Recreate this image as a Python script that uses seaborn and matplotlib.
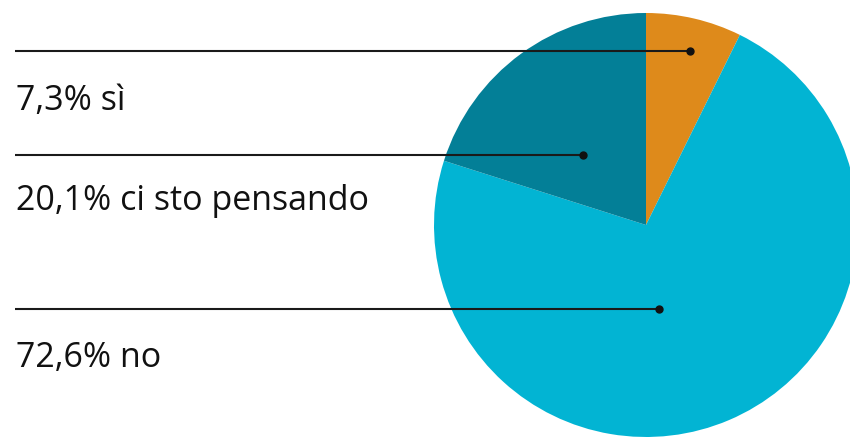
import matplotlib
matplotlib.use("Agg")
import matplotlib.pyplot as plt
import seaborn as sns

# Survey answers, clockwise from 12 o'clock
answers = ["sì", "no", "ci sto pensando"]
shares = [7.3, 72.6, 20.1]
slice_colors = ["#DE8A1B", "#02B4D3", "#037F97"]

# Label order down the left side
label_order = ["sì", "ci sto pensando", "no"]

sns.set_theme(style="white")
plt.rcParams["font.family"] = ["Open Sans", "DejaVu Sans"]

W, H = 850, 437
fig = plt.figure(figsize=(W / 100, H / 100), dpi=100)
ax = fig.add_axes([0, 0, 1, 1])

cx, cy, r = 646, H - 225, 212
ax.pie(shares, colors=slice_colors, startangle=90, counterclock=False,
       center=(cx, cy), radius=r, frame=True,
       wedgeprops=dict(linewidth=0))
ax.set_xlim(0, W)
ax.set_ylim(0, H)
ax.set_aspect("equal")
ax.axis("off")

def fmt(v):
    return f"{v:.1f}".replace(".", ",") + "%"

# leader lines: (line y, dot x, text baseline y) in pixel rows from top
leaders = {
    "sì": (51, 690, 110),
    "ci sto pensando": (155, 583, 210),
    "no": (309, 659, 367),
}
for name in label_order:
    ly, dx, ty = leaders[name]
    ax.plot([15, dx], [H - ly, H - ly], color="#1a1a1a", lw=1.5,
            solid_capstyle="butt", zorder=3)
    ax.plot([dx], [H - ly], "o", color="#111111", ms=5, zorder=4)
    v = shares[answers.index(name)]
    ax.text(16, H - ty, f"{fmt(v)} {name}", fontsize=24.5, color="#111111",
            va="baseline", ha="left")

fig.savefig("out.png", dpi=100)
